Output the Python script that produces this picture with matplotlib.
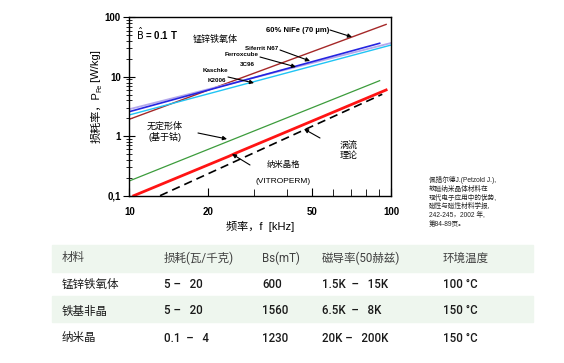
import matplotlib.pyplot as plt
from matplotlib.patches import Rectangle

plt.rcParams['font.family'] = ['Liberation Sans', 'Noto Sans CJK SC', 'DejaVu Sans']

# loss curves: frequency kHz -> loss W/kg
f_nife = [10, 95.7]
p_nife = [1.93, 76]
f_n87 = [10, 90.4]
p_n87 = [2.59, 36.6]
f_3c96 = [10, 100]
p_3c96 = [2.85, 37]
f_k2006 = [10, 100]
p_k2006 = [2.28, 34.2]
f_amorph = [10, 90.4]
p_amorph = [0.177, 8.6]
f_nano = [10.4, 24, 25.5, 95.7]
p_nano = [0.1, 0.46, 0.52, 6.0]
f_eddy = [13.1, 92.5]
p_eddy = [0.1, 5.08]

table_header = ["材料", "损耗(瓦/千克)", "Bs(mT)", "磁导率(50赫兹)", "环境温度"]
table_rows = [
    ["锰锌铁氧体", "5 –   20", "600", "1.5K  –   15K", "100 °C"],
    ["铁基非晶", "5 –   20", "1560", "6.5K  –   8K", "150 °C"],
    ["纳米晶", "0.1  –   4", "1230", "20K –   200K", "150 °C"],
]
citation = ["佩措尔德J.(Petzold J.),", "软磁纳米晶体材料在", "现代电子应用中的优势,",
            "磁性与磁性材料学报,", "242-245，2002 年,", "第84-89页。"]

fig = plt.figure(figsize=(5.64, 3.63), dpi=100)
ax = fig.add_axes([0.2293, 0.4609, 0.4642, 0.4914])

ax.plot(f_nife, p_nife, color='#a52828', lw=1.0)
ax.plot(f_3c96, p_3c96, color='#b4a8ec', lw=1.3)
ax.plot(f_n87, p_n87, color='#2424e0', lw=1.2)
ax.plot(f_k2006, p_k2006, color='#20c4f4', lw=1.0)
ax.plot(f_amorph, p_amorph, color='#3c9c3c', lw=0.9)
ax.plot(f_nano, p_nano, color='#ff1414', lw=2.0)
ax.plot(f_eddy, p_eddy, color='black', lw=1.2, ls=(0, (5, 3)))

ax.set_xscale('log')
ax.set_yscale('log')
ax.set_xlim(10, 100)
ax.set_ylim(0.1, 100)
ax.set_xticks([10, 20, 50, 100])
ax.set_xticklabels(['10', '20', '50', '100'])
ax.set_yticks([0.1, 1, 10, 100])
ax.set_yticklabels(['0,1', '1', '10', '100'])
ax.tick_params(axis='x', which='both', direction='in', top=False, labelsize=7, pad=8)
ax.tick_params(axis='x', which='major', length=6)
ax.tick_params(axis='x', which='minor', length=5, labelbottom=False)
ax.tick_params(axis='y', which='both', direction='inout', labelsize=7, pad=2)
ax.tick_params(axis='y', which='major', length=8)
ax.tick_params(axis='y', which='minor', length=5)
for lab in ax.get_xticklabels() + ax.get_yticklabels():
    lab.set_fontweight('bold')
for s in ax.spines.values():
    s.set_linewidth(1.0)

ax.set_xlabel("频率，f  [kHz]", fontsize=8, labelpad=3)


def note(x, y, s, **kw):
    return fig.text(x / 564, 1 - y / 363, s, **kw)


# y label built from pieces so the subscript works with CJK text
renderer = fig.canvas.get_renderer()
y_pos = 143
for s, size, xb in [("损耗率，P", 8, 99), ("Fe", 5, 101), (" [W/kg]", 8, 99)]:
    t = note(xb, y_pos, s, fontsize=size, rotation=90, rotation_mode='anchor',
             ha='left', va='baseline')
    y_pos -= t.get_window_extent(renderer).height - 1


def arrow(x0, y0, x1, y1):
    ax.annotate('', xy=(x1 / 564, 1 - y1 / 363), xycoords='figure fraction',
                xytext=(x0 / 564, 1 - y0 / 363), textcoords='figure fraction',
                arrowprops=dict(arrowstyle='-|>', color='black', lw=0.8,
                                mutation_scale=6, shrinkA=0, shrinkB=0))


note(136, 34, r"$\hat{\mathrm{B}}$ = 0.1 T", fontsize=7, fontweight='bold', va='center')
note(193, 39, "锰锌铁氧体", fontsize=6.5, va='center')
note(266, 30, "60% NiFe (70 µm)", fontsize=5.5, fontweight='bold', va='center')
arrow(330, 30, 352, 37)
note(262, 48, "Siferrit N67", fontsize=4.5, fontweight='bold', va='center', ha='center')
arrow(280, 50, 310, 61)
note(242, 54, "Ferroxcube", fontsize=4.5, fontweight='bold', va='center', ha='center')
note(247, 64, "3C96", fontsize=4.5, fontweight='bold', va='center', ha='center')
arrow(260, 57, 296, 67)
note(215, 71, "Kaschke", fontsize=4.5, fontweight='bold', va='center', ha='center')
note(217, 80, "K2006", fontsize=4.5, fontweight='bold', va='center', ha='center')
arrow(228, 77, 254, 83)
note(165, 132, "无定形体\n(基于钴)", fontsize=6.5, va='center', ha='center', linespacing=1.1)
arrow(198, 133, 227, 139)
note(283, 173, "纳米晶格\n\n(VITROPERM)", fontsize=6, va='center', ha='center', linespacing=1.2)
arrow(250, 165, 232, 154)
note(349, 151, "涡流\n理论", fontsize=6.5, va='center', ha='center', linespacing=1.1)
arrow(320, 138, 304, 129)

note(429, 176, "\n".join(citation), fontsize=4.8, va='top', linespacing=1.35, color='#222222')

# material comparison table
band = '#eef6ee'
row_y = [258, 284, 311, 338]
col_x = [62, 164, 262, 322, 443]
table_font = ['Roboto', 'Noto Sans CJK SC', 'DejaVu Sans']
fig.patches.append(Rectangle((52 / 564, 1 - 272 / 363), 481 / 564, 27 / 363,
                             transform=fig.transFigure, color=band, zorder=0))
fig.patches.append(Rectangle((52 / 564, 1 - 322 / 363), 481 / 564, 26 / 363,
                             transform=fig.transFigure, color=band, zorder=0))
for x, s in zip(col_x, table_header):
    note(x, row_y[0], s, fontsize=8.3, va='center', color='#404040',
         family=table_font)
for y, row in zip(row_y[1:], table_rows):
    for x, s in zip(col_x, row):
        note(x, y, s, fontsize=8.3, va='center', color='#1a1a1a',
             family=table_font, fontweight='medium')

fig.savefig("out.png", dpi=100)
